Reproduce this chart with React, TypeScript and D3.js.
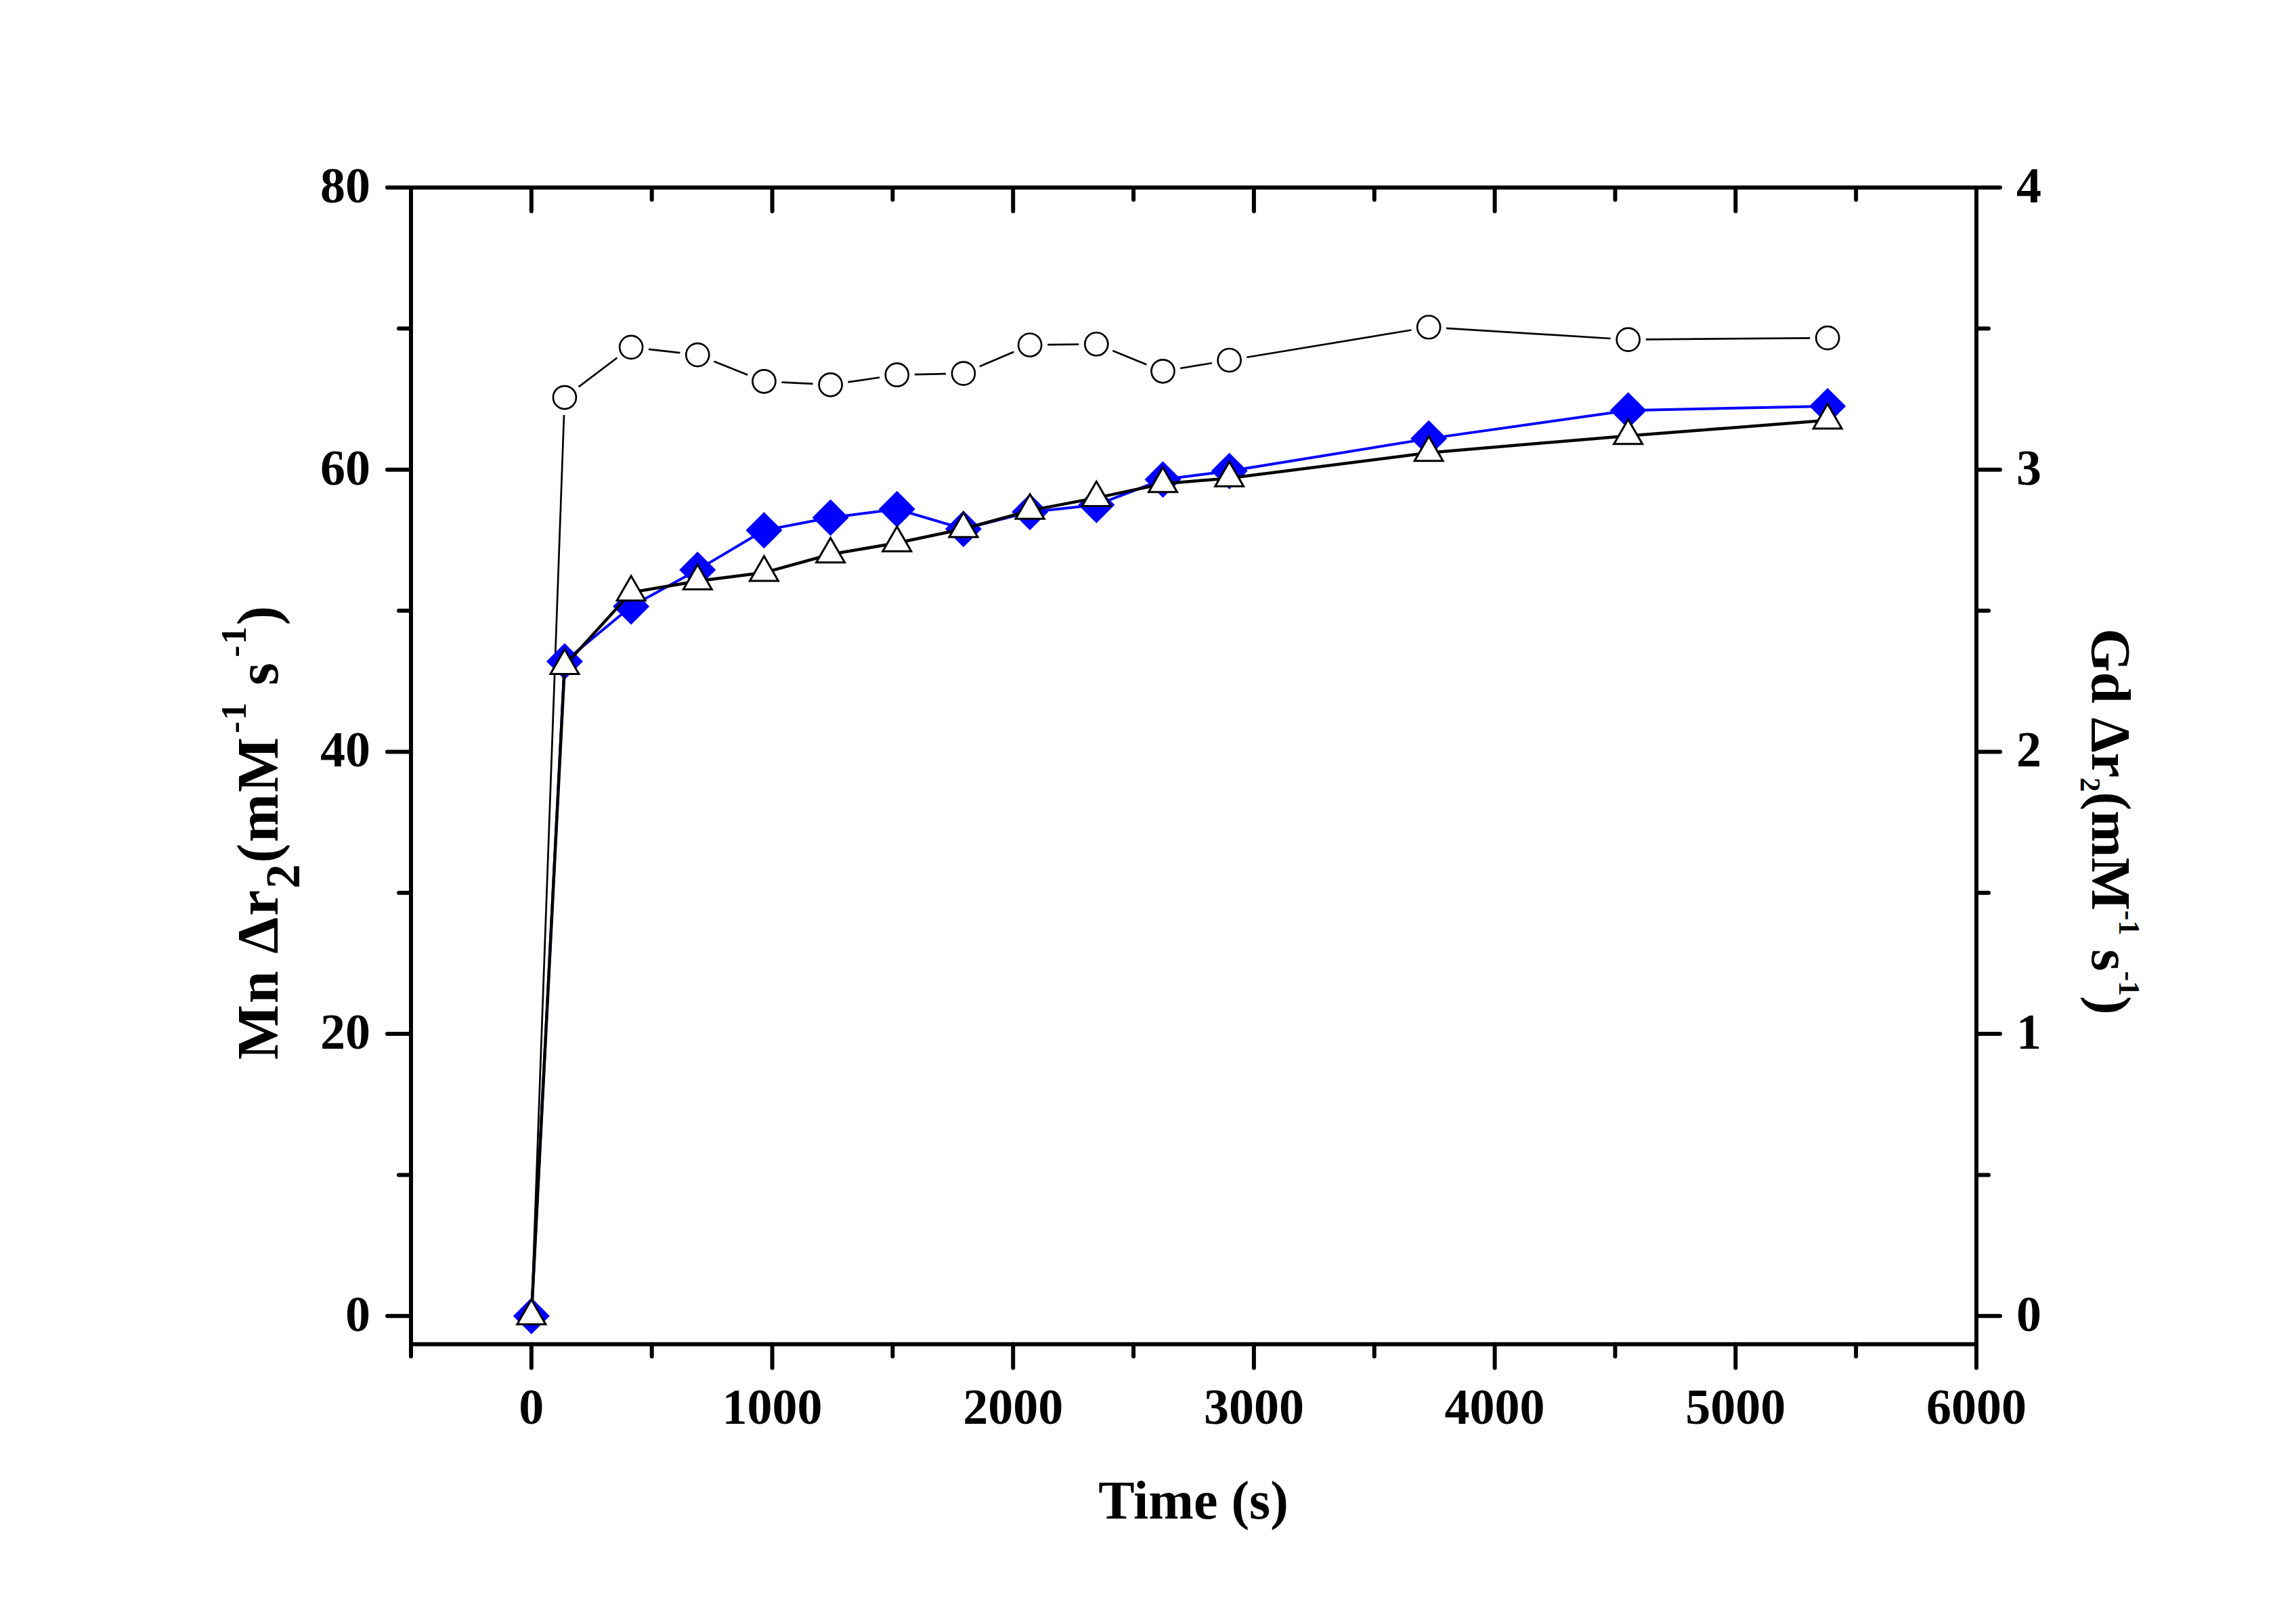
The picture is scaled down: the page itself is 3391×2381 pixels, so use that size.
import React, { useEffect } from 'react';
import * as d3 from 'd3';

const W = 3391;
const H = 2381;

// Time (s)
const times = [0, 138, 414, 690, 966, 1242, 1518, 1794, 2070, 2346, 2622, 2898, 3726, 4554, 5382];
// Mn Δr2, filled blue diamonds (left axis)
const mnDiamond = [0, 46.4, 50.3, 52.9, 55.7, 56.6, 57.2, 55.8, 57.0, 57.5, 59.3, 59.9, 62.2, 64.2, 64.5];
// Mn Δr2, open triangles (left axis)
const mnTriangle = [0, 46.1, 51.3, 52.1, 52.7, 54.0, 54.8, 55.8, 57.1, 58.0, 59.0, 59.4, 61.2, 62.4, 63.5];
// Gd Δr2, open circles (right axis)
const gdCircle = [0, 3.256, 3.434, 3.407, 3.313, 3.301, 3.336, 3.341, 3.442, 3.445, 3.349, 3.388, 3.505, 3.461, 3.467];

const xMajor = [0, 1000, 2000, 3000, 4000, 5000, 6000];
const xMinor = [-500, 500, 1500, 2500, 3500, 4500, 5500];
const yLMajor = [0, 20, 40, 60, 80];
const yLMinor = [10, 30, 50, 70];
const yRMajor = [0, 1, 2, 3, 4];
const yRMinor = [0.5, 1.5, 2.5, 3.5];

const FONT = '"Liberation Serif", "Times New Roman", serif';
const BLUE = '#0000FF';

export default function App() {
  useEffect(() => {
    document.body.style.margin = '0';
  }, []);

  const left = 607, right = 2919, top = 277, bottom = 1985.5;
  const x = d3.scaleLinear().domain([-500, 6000]).range([left, right]);
  const yL = d3.scaleLinear().domain([-2, 80]).range([bottom, top]);
  const yR = d3.scaleLinear().domain([-0.1, 4]).range([bottom, top]);

  const major = 35, minor = 18, axW = 6;
  const tickFont = 74;

  const lineGen = d3.line<[number, number]>().x(d => d[0]).y(d => d[1]);

  const diamondPts: [number, number][] = times.map((t, i) => [x(t), yL(mnDiamond[i])]);
  const trianglePts: [number, number][] = times.map((t, i) => [x(t), yL(mnTriangle[i])]);
  const circlePts: [number, number][] = times.map((t, i) => [x(t), yR(gdCircle[i])]);

  // Circle series: segments with gaps near the symbols
  const gap = 26;
  const circleSegs = circlePts.slice(1).map((p, i) => {
    const a = circlePts[i];
    const dx = p[0] - a[0], dy = p[1] - a[1];
    const len = Math.hypot(dx, dy);
    const ux = dx / len, uy = dy / len;
    return [a[0] + ux * gap, a[1] + uy * gap, p[0] - ux * gap, p[1] - uy * gap];
  });

  const dHalf = 27;
  const triSide = 42;
  const triH = triSide * Math.sqrt(3) / 2;
  const triPath = (cx: number, cy: number) =>
    `M${cx},${cy - (2 / 3) * triH}L${cx + triSide / 2},${cy + triH / 3}L${cx - triSide / 2},${cy + triH / 3}Z`;
  const diaPath = (cx: number, cy: number) =>
    `M${cx},${cy - dHalf}L${cx + dHalf},${cy}L${cx},${cy + dHalf}L${cx - dHalf},${cy}Z`;

  return (
    <svg width={W} height={H} style={{ position: 'absolute', left: 0, top: 0, background: '#fff' }}>
      <rect x={0} y={0} width={W} height={H} fill="#fff" />

      {/* Gd circles series */}
      <g>
        {circleSegs.map((s, i) => (
          <line key={i} x1={s[0]} y1={s[1]} x2={s[2]} y2={s[3]} stroke="#000" strokeWidth={2.7} />
        ))}
        {circlePts.map((p, i) => (
          <circle key={i} cx={p[0]} cy={p[1]} r={17} fill="#fff" stroke="#000" strokeWidth={2.7} />
        ))}
      </g>

      {/* Mn diamonds series */}
      <g>
        <path d={lineGen(diamondPts) || ''} fill="none" stroke={BLUE} strokeWidth={4} />
        {diamondPts.map((p, i) => (
          <path key={i} d={diaPath(p[0], p[1])} fill={BLUE} stroke="none" />
        ))}
      </g>

      {/* Mn triangles series */}
      <g>
        <path d={lineGen(trianglePts) || ''} fill="none" stroke="#000" strokeWidth={4.5} />
        {trianglePts.map((p, i) => (
          <path key={i} d={triPath(p[0], p[1])} fill="#fff" stroke="#000" strokeWidth={3} strokeLinejoin="miter" />
        ))}
      </g>

      {/* Axes frame */}
      <g stroke="#000" strokeWidth={axW} strokeLinecap="round" fill="none">
        <line x1={left} y1={top} x2={right} y2={top} />
        <line x1={left} y1={bottom} x2={right} y2={bottom} strokeLinecap="square" />
        <line x1={left} y1={top} x2={left} y2={bottom} strokeLinecap="square" />
        <line x1={right} y1={top} x2={right} y2={bottom} strokeLinecap="square" />

        {/* bottom ticks (outward) */}
        {xMajor.map(v => (
          <line key={'bM' + v} x1={x(v)} y1={bottom} x2={x(v)} y2={bottom + major} />
        ))}
        {xMinor.map(v => (
          <line key={'bm' + v} x1={x(v)} y1={bottom} x2={x(v)} y2={bottom + minor} />
        ))}
        {/* top ticks (inward) */}
        {xMajor.map(v => (
          <line key={'tM' + v} x1={x(v)} y1={top} x2={x(v)} y2={top + major} />
        ))}
        {xMinor.map(v => (
          <line key={'tm' + v} x1={x(v)} y1={top} x2={x(v)} y2={top + minor} />
        ))}
        {/* left ticks (outward) */}
        {yLMajor.map(v => (
          <line key={'lM' + v} x1={left} y1={yL(v)} x2={left - major} y2={yL(v)} />
        ))}
        {yLMinor.map(v => (
          <line key={'lm' + v} x1={left} y1={yL(v)} x2={left - minor} y2={yL(v)} />
        ))}
        {/* right ticks (outward) */}
        {yRMajor.map(v => (
          <line key={'rM' + v} x1={right} y1={yR(v)} x2={right + major} y2={yR(v)} />
        ))}
        {yRMinor.map(v => (
          <line key={'rm' + v} x1={right} y1={yR(v)} x2={right + minor} y2={yR(v)} />
        ))}
      </g>

      {/* Tick labels */}
      <g fontFamily={FONT} fontWeight="bold" fontSize={tickFont} fill="#000">
        {xMajor.map(v => (
          <text key={'xl' + v} x={x(v)} y={2103} textAnchor="middle">{v}</text>
        ))}
        {yLMajor.map(v => (
          <text key={'yl' + v} x={547} y={yL(v) + 22} textAnchor="end">{v}</text>
        ))}
        {yRMajor.map(v => (
          <text key={'yr' + v} x={2978} y={yR(v) + 22} textAnchor="start">{v}</text>
        ))}
      </g>

      {/* Axis titles */}
      <g fontFamily={FONT} fontWeight="bold" fill="#000">
        <text x={1762.5} y={2243} textAnchor="middle" fontSize={80}>Time (s)</text>

        <text transform="translate(410,1229) rotate(-90)" textAnchor="middle" fontSize={86} letterSpacing={2}>
          <tspan>Mn Δr</tspan>
          <tspan fontSize={72} dy={32}>2</tspan>
          <tspan dy={-32}>(mM</tspan>
          <tspan fontSize={52} dy={-47} dx={4}>-1</tspan>
          <tspan dy={47}>{'\u00A0s'}</tspan>
          <tspan fontSize={52} dy={-47} dx={6}>-1</tspan>
          <tspan dy={47}>)</tspan>
        </text>

        <text transform="translate(3090,1213.5) rotate(90)" textAnchor="middle" fontSize={83}>
          <tspan>Gd Δr</tspan>
          <tspan fontSize={42} dy={17}>2</tspan>
          <tspan dy={-17}>(mM</tspan>
          <tspan fontSize={44} dy={-40}>-1</tspan>
          <tspan dy={40}>{'\u00A0s'}</tspan>
          <tspan fontSize={44} dy={-40}>-1</tspan>
          <tspan dy={40}>)</tspan>
        </text>
      </g>
    </svg>
  );
}
